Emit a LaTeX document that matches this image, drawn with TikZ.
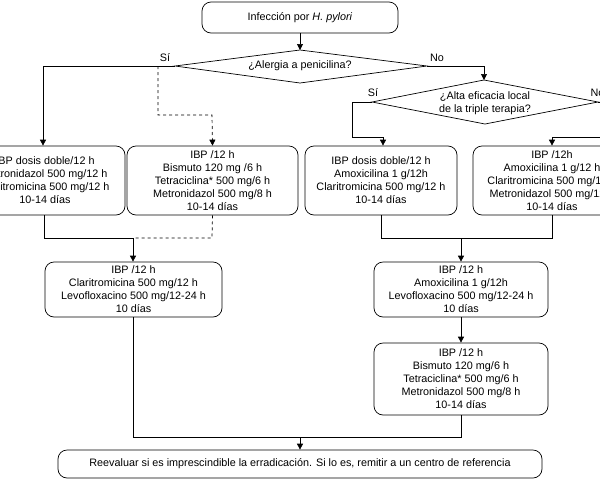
\documentclass[tikz,border=0pt]{standalone}
\usepackage{fontspec}
\setmainfont{Liberation Sans}
\usetikzlibrary{arrows.meta}
\begin{document}
\begin{tikzpicture}[x=1pt,y=-1pt,
  box/.style={draw,rounded corners=9pt,align=center,font=\fontsize{10.8}{13}\selectfont,inner sep=2pt},
  lbl/.style={font=\fontsize{10.8}{13}\selectfont},
  arr/.style={-{Triangle[width=6pt,length=6pt]}},
  ln/.style={line width=0.7pt}]
\useasboundingbox (0,0) rectangle (600,480);
\clip (0,0) rectangle (600,480);
\begin{scope}[ln]
\node[box,minimum width=196pt,minimum height=31pt] (top) at (300,17.5) {Infección por \textit{H. pylori}};
\coordinate (d1t) at (300,50); \coordinate (d1l) at (175,66); \coordinate (d1r) at (427,66); \coordinate (d1b) at (300,83);
\draw (d1t)--(d1r)--(d1b)--(d1l)--cycle;
\node[lbl] (q1) at (300,66) {¿Alergia a penicilina?};
\coordinate (d2t) at (484,80); \coordinate (d2l) at (372,102); \coordinate (d2r) at (598,102); \coordinate (d2b) at (485,124);
\draw (d2t)--(d2r)--(d2b)--(d2l)--cycle;
\node[lbl,align=center] (q2) at (485,103) {¿Alta eficacia local\\de la triple terapia?};
\node[lbl] (si1) at (165,58) {Sí};
\node[lbl] (no1) at (437,58) {No};
\node[lbl] (si2) at (373,93) {Sí};
\node[lbl,anchor=west] (no2) at (587,93) {No};

\node[box,minimum width=160pt,minimum height=69pt] (b1) at (45,180.5) {IBP dosis doble/12 h\\Metronidazol 500 mg/12 h\\Claritromicina 500 mg/12 h\\10-14 días};
\node[box,minimum width=171pt,minimum height=69pt] (b2) at (212.5,180.5) {IBP /12 h\\Bismuto 120 mg /6 h\\Tetraciclina* 500 mg/6 h\\Metronidazol 500 mg/8 h\\10-14 días};
\node[box,minimum width=152pt,minimum height=69pt] (b3) at (381,180.5) {IBP dosis doble/12 h\\Amoxicilina 1 g/12h\\Claritromicina 500 mg/12 h\\10-14 días};
\node[box,minimum width=158pt,minimum height=69pt] (b4) at (552,180.5) {IBP /12h\\Amoxicilina 1 g/12 h\\Claritromicina 500 mg/12 h\\Metronidazol 500 mg/12 h\\10-14 días};
\node[box,minimum width=177pt,minimum height=55pt] (b5) at (133.5,289.5) {IBP /12 h\\Claritromicina 500 mg/12 h\\Levofloxacino 500 mg/12-24 h\\10 días};
\node[box,minimum width=174pt,minimum height=55pt] (b6) at (461,289.5) {IBP /12 h\\Amoxicilina 1 g/12h\\Levofloxacino 500 mg/12-24 h\\10 días};
\node[box,minimum width=174pt,minimum height=72pt] (b7) at (461,379) {IBP /12 h\\Bismuto 120 mg/6 h\\Tetraciclina* 500 mg/6 h\\Metronidazol 500 mg/8 h\\10-14 días};
\node[box,minimum width=484pt,minimum height=28pt] (fin) at (300,464) {Reevaluar si es imprescindible la erradicación. Si lo es, remitir a un centro de referencia};

\draw[arr] (top.south)--(d1t);
\draw[arr] (d1l)--(43,66)--(b1.north-|43,0);
\draw[arr,dashed] (158,66)--(158,115)--(212,115)--(b2.north);
\draw[arr] (d1r)--(484,66)--(d2t);
\draw[arr] (d2l)--(352,102)--(352,137)--(383,137)--(b3.north-|383,0);
\draw[arr] (d2r)--(620,102)--(620,137)--(552,137)--(b4.north);
\coordinate (j1) at (133,238);
\draw (b1.south-|44,0)--(44,238)--(j1);
\draw[dashed] (b2.south)--(212,238)--(j1);
\draw[arr] (j1)--(b5.north-|133,0);
\coordinate (j2) at (461,238);
\draw (b3.south)--(381,238)--(552,238)--(b4.south);
\draw[arr] (j2)--(b6.north);
\draw[arr] (b6.south)--(b7.north);
\coordinate (j3) at (300,437);
\draw (b5.south-|133,0)--(133,437)--(j3);
\draw (b7.south)--(461,437)--(j3);
\draw[arr] (j3)--(fin.north);
\end{scope}
\end{tikzpicture}
\end{document}
